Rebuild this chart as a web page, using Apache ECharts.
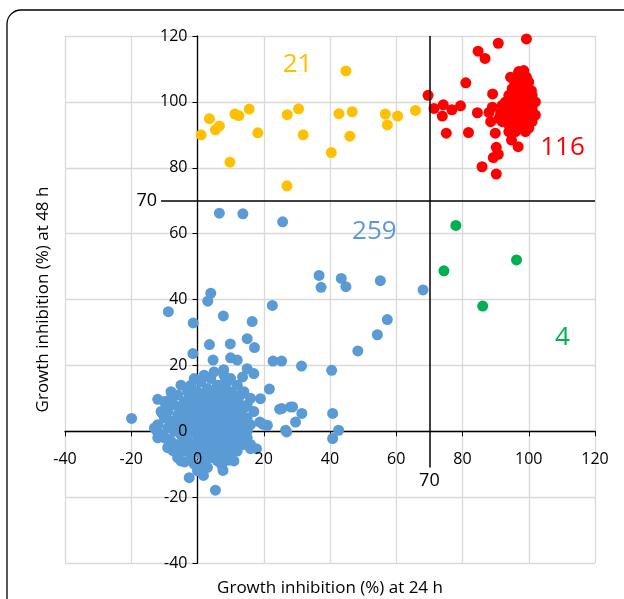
<!DOCTYPE html>
<html>
<head>
<meta charset="utf-8">
<script src="https://cdn.jsdelivr.net/npm/echarts@6/dist/echarts.min.js"></script>
<style>
  html, body { margin: 0; padding: 0; background: #fff; }
  #chart { width: 624px; height: 599px; }
</style>
</head>
<body>
<div id="chart"></div>
<script>
// growth inhibition at 24 h (x) vs 48 h (y), one array per group
var bluePoints = [
  [6.6, 66.2], [13.7, 66.0], [25.7, 63.6], [36.7, 47.3], [37.3, 43.7], [43.4, 46.4],
  [44.8, 43.9], [55.2, 45.7], [68.1, 42.9], [57.3, 33.9], [54.3, 29.3], [22.6, 38.2],
  [4.0, 41.9], [3.1, 39.5], [-8.8, 36.3], [-1.3, 32.9], [7.8, 35.0], [16.5, 33.3],
  [15.0, 28.1], [17.2, 25.4], [3.6, 26.3], [9.9, 26.5], [48.4, 24.4], [40.5, 18.5],
  [31.4, 19.8], [25.4, 21.3], [22.8, 21.3], [-1.4, 23.6], [4.7, 21.6], [10.0, 22.3],
  [12.0, 21.6], [21.7, 12.8], [19.0, 9.9], [24.8, 6.7], [28.1, 7.4], [29.6, 2.8],
  [26.6, 0.3], [18.8, 2.8], [19.8, 2.1], [-19.9, 3.9], [40.8, 5.4], [42.6, 0.3],
  [40.8, -2.2], [31.5, 5.4], [28.7, 7.4], [25.4, 6.9], [26.9, -0.2], [21.1, 1.8],
  [16.0, -5.3], [17.8, -5.3], [9.4, -8.8], [7.3, -10.3], [7.7, -11.9], [5.4, -17.9],
  [-2.5, -14.1], [1.8, -13.4], [0.3, -11.3], [-3.9, -9.3], [-7.5, -5.8], [-9.4, -2.2],
  [-12.4, 0.3], [-10.6, 5.4], [8.8, -4.3], [11.2, -2.2], [4.5, -7.8], [-12.0, 9.7],
  [-9.5, 7.4], [15.0, 19.0], [17.0, 17.5], [13.6, 16.5], [7.9, 18.7],
  [-12, 2], [-11, -1], [-10, 4], [-9, 1], [-9, 6], [-8, -3], [-8, 3], [-7, 8], [-7, 0],
  [-6, -4], [-6, 5], [-6, 11], [-5, 2], [-5, -1], [-5, 7], [-4, 9], [-4, -6], [-4, 4],
  [-3, 1], [-3, 12], [-3, -3], [-3, 6], [-2, 3], [-2, -8], [-2, 8], [-2, 14], [-1, 0],
  [-1, 5], [-1, -4], [-1, 10], [0, 2], [0, -2], [0, 7], [0, 12], [0, -6], [1, 4], [1, 9],
  [1, -1], [1, 15], [1, 1], [2, 6], [2, -3], [2, 11], [2, 3], [2, -9], [3, 0], [3, 8],
  [3, 13], [3, 5], [3, -5], [4, 2], [4, 10], [4, -2], [4, 6], [4, 16], [5, 3], [5, 8],
  [5, -7], [5, 12], [5, 0], [6, 5], [6, -3], [6, 10], [6, 14], [6, 1], [7, 7], [7, -1],
  [7, 3], [7, 11], [7, -5], [8, 4], [8, 9], [8, 0], [8, 13], [8, -8], [9, 6], [9, 2],
  [9, -3], [9, 10], [10, 4], [10, 8], [10, -1], [10, 12], [11, 1], [11, 6], [11, -4],
  [12, 3], [12, 9], [12, -6], [13, 5], [13, 0], [13, 11], [14, 2], [14, 7], [15, -2],
  [15, 4], [16, 10], [-10, -2], [-7, -6], [-5, -9], [-1, -10], [0, -12], [3, -11],
  [6, -9], [9, -6], [11, -9], [-8, 10], [-2, 1], [0, 4], [1, 6], [2, 0], [3, 2], [4, 4],
  [5, 5], [5, -3], [6, 7], [7, 2], [8, 6], [2, 8], [1, 3], [0, 9], [-1, 2], [-2, 5],
  [-3, -1], [-4, 1], [3, 10], [4, -4], [6, -6], [7, 9], [9, 4], [10, 0], [11, 3], [12, 7],
  [13, -3], [14, -4], [-6, 2], [-4, -3], [-2, -5], [0, -4], [2, -6], [4, -8], [8, -2],
  [10, -7], [12, 0], [-11, 6], [-13, 1], [-12, -2], [15, 8], [16, 2], [17, 6], [14, 12],
  [12, 14], [10, 16], [8, 17], [5, 18], [2, 17], [-1, 16], [-5, 14], [-8, 12], [-10, 9],
  [6, 3], [3, -1], [1, -7], [-3, 9], [7, 14], [9, 15], [11, 11], [13, 8], [15, 0],
  [16, -4], [-6, -8], [-9, -5]
];

var orangePoints = [
  [1.1, 90.0], [3.6, 94.9], [5.4, 91.5], [6.6, 92.7], [9.8, 81.7], [11.3, 96.3],
  [12.5, 95.8], [15.6, 97.8], [18.2, 90.6], [27.1, 96.1], [27.0, 74.5], [30.5, 97.9],
  [31.9, 90.0], [40.4, 84.6], [42.7, 96.4], [44.8, 109.4], [46.7, 97.0], [46.0, 89.6],
  [56.7, 96.3], [57.3, 93.0], [60.4, 95.7], [65.8, 97.4]
];

var redPoints = [
  [69.6, 102.0], [71.4, 98.0], [74.2, 99.1], [73.9, 95.7], [76.8, 97.6], [79.4, 98.8],
  [75.1, 90.5], [81.0, 105.8], [81.8, 90.7], [84.5, 96.7], [84.7, 115.4], [86.8, 113.2],
  [90.8, 117.8], [99.3, 119.1], [89.1, 102.4], [88.5, 94.0], [89.9, 90.5], [90.2, 86.2],
  [90.8, 84.1], [89.3, 83.1], [85.9, 80.3], [90.2, 78.1], [94.8, 88.4], [96.8, 86.4],
  [94.5, 107.5], [95.7, 106.2], [97.0, 109.2], [98.5, 109.5], [99.3, 107.5], [100.8, 103.4],
  [89.0, 98.4], [88.0, 96.8], [91.5, 96.6], [93.0, 99.1], [101.0, 97.8], [96.0, 93.0],
  [92, 97], [93, 95], [93, 100], [94, 98], [94, 102], [94, 93], [95, 96], [95, 99],
  [95, 104], [95, 92], [96, 97], [96, 101], [96, 94], [96, 106], [97, 98], [97, 95],
  [97, 103], [97, 100], [97, 92], [98, 96], [98, 99], [98, 102], [98, 105], [98, 93],
  [99, 97], [99, 100], [99, 94], [99, 103], [99, 107], [99, 91], [100, 98], [100, 95],
  [100, 101], [100, 104], [100, 92], [101, 97], [101, 99], [101, 94], [101, 102], [102, 96],
  [102, 100], [98, 108], [97, 109], [99, 106], [100, 106], [98, 104], [96, 99], [95, 101],
  [94, 96], [93, 97], [92, 99], [91, 95], [92, 94], [94, 91], [96, 91], [97, 93], [99, 96],
  [100, 97], [101, 100], [98, 97], [97, 97], [96, 96], [95, 98], [99, 98], [100, 100],
  [98, 100], [97, 101], [99, 101], [96, 103], [98, 95], [100, 93], [101, 95], [99, 93],
  [97, 105], [100, 103]
];

var greenPoints = [
  [78.0, 62.5], [74.4, 48.7], [96.3, 52.0], [86.1, 38.0]
];

// group counts and where they are written (data coords)
var groupCounts = ['259', '21', '116', '4'];
var countCoords = [[53.4, 60.5], [30.2, 111.2], [110.2, 86.0], [110.2, 28.3]];
var groupColors = ['#5B9BD5', '#FFC000', '#FF0000', '#00B050'];

var threshold = 70;
var axisTicks = { min: -40, max: 120, interval: 20 };

var W = 624, H = 599;
var gridBox = { left: 65, right: 29, top: 36, bottom: 36 };
var plotW = W - gridBox.left - gridBox.right;
var plotH = H - gridBox.top - gridBox.bottom;
var span = axisTicks.max - axisTicks.min;
// axes cross at zero, so shift them in from the grid edges (labels follow)
var xShift = -plotH * (0 - axisTicks.min) / span;
var yShift = -plotW * (0 - axisTicks.min) / span;

var font = '"Open Sans", sans-serif';
var myChart = echarts.init(document.getElementById('chart'));

function makeSeries(points, idx) {
  return {
    type: 'scatter',
    data: points,
    symbolSize: 11,
    itemStyle: { color: groupColors[idx], opacity: 1 },
    markPoint: {
      symbol: 'circle',
      symbolSize: 0,
      data: [{ coord: countCoords[idx] }],
      label: {
        show: true,
        formatter: groupCounts[idx],
        color: groupColors[idx],
        fontSize: 26,
        fontFamily: font
      }
    }
  };
}

var series = [
  makeSeries(bluePoints, 0),
  makeSeries(orangePoints, 1),
  makeSeries(redPoints, 2),
  makeSeries(greenPoints, 3)
];

// the two 70 % cut-off lines
series[0].markLine = {
  silent: true,
  symbol: ['none', 'none'],
  lineStyle: { color: '#000', width: 1.5, type: 'solid' },
  label: {
    show: true,
    position: 'start',
    formatter: String(threshold),
    color: '#000',
    fontSize: 18,
    fontFamily: font,
    distance: 4
  },
  data: [
    [{ coord: [threshold, -11] }, { coord: [threshold, 120] }],
    [{ coord: [-11, threshold] }, { coord: [120, threshold] }]
  ]
};

// axis 0: grid, line, ticks (under the dots); axis 1: tick labels + title (over the dots)
function makeAxes(isX) {
  var base = {
    type: 'value',
    position: isX ? 'bottom' : 'left',
    min: axisTicks.min,
    max: axisTicks.max,
    interval: axisTicks.interval,
    offset: isX ? xShift : yShift
  };
  var under = echarts.util.extend({
    axisLine: { show: true, onZero: false, lineStyle: { color: '#000', width: 1.3 } },
    axisTick: { show: true, length: 5, lineStyle: { color: '#000' } },
    axisLabel: { show: false },
    splitLine: { show: true, lineStyle: { color: '#d9d9d9', width: 1.3 } }
  }, base);
  var over = echarts.util.extend({
    z: 10,
    name: isX ? 'Growth inhibition (%) at 24 h' : 'Growth inhibition (%) at 48 h',
    nameLocation: 'middle',
    nameRotate: isX ? 0 : 90,
    nameGap: isX ? 148 : 146,
    nameTextStyle: { color: '#000', fontSize: 17, fontFamily: font },
    axisLine: { show: false, onZero: false },
    axisTick: { show: false },
    axisLabel: { color: '#000', fontSize: 16, fontFamily: font, margin: isX ? 20 : 10 },
    splitLine: { show: false }
  }, base);
  return [under, over];
}

var option = {
  animation: false,
  backgroundColor: '#fff',
  graphic: [{
    type: 'rect',
    shape: { x: 7, y: 10, width: 700, height: 700, r: 14 },
    style: { fill: 'none', stroke: '#000', lineWidth: 1.3 },
    silent: true
  }],
  grid: {
    left: gridBox.left, right: gridBox.right, top: gridBox.top, bottom: gridBox.bottom,
    containLabel: false, outerBoundsMode: 'none'
  },
  xAxis: makeAxes(true),
  yAxis: makeAxes(false),
  series: series
};

myChart.setOption(option);
</script>
</body>
</html>
